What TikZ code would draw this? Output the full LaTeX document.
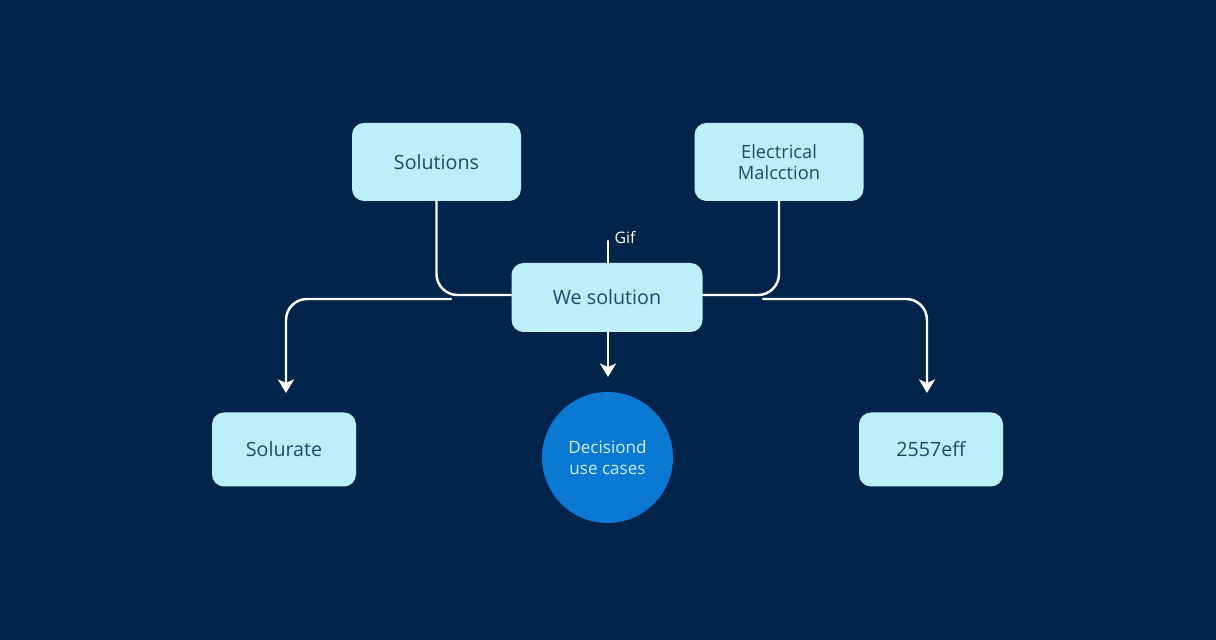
\documentclass[tikz,border=0pt]{standalone}
\usepackage{fontspec}
\setmainfont{Open Sans}
\usetikzlibrary{arrows.meta}
\usetikzlibrary{positioning}
\definecolor{bgblue}{HTML}{02244A}
\definecolor{boxblue}{HTML}{BBF0FA}
\definecolor{boxtext}{HTML}{1D4A6B}
\definecolor{discblue}{HTML}{0B78D4}
\definecolor{disctext}{HTML}{CDF3FB}
\tikzstyle{every node}=[font=\fontsize{11.2}{11.9}\selectfont,inner sep=0pt,outer sep=0pt]
\tikzstyle{every path}=[line cap=round,line join=round]
\tikzstyle{bigbox}=[fill=boxblue,text=boxtext,rounded corners=0.24cm,align=center,minimum width=3.38cm,minimum height=1.56cm]
\tikzstyle{midbox}=[bigbox,minimum width=3.82cm,minimum height=1.38cm]
\tikzstyle{lowbox}=[bigbox,minimum width=2.88cm,minimum height=1.48cm]
\tikzstyle{disc}=[circle,fill=discblue,text=disctext,align=center,minimum size=2.62cm,font=\fontsize{9.7}{11.9}\selectfont]
\tikzstyle{wire}=[draw=white,line width=1.4pt,rounded corners=0.42cm]
\tikzstyle{flow}=[wire,-{Stealth[length=0.27cm,width=0.32cm,inset=0.07cm]}]
\begin{document}
\begin{tikzpicture}

\fill [bgblue] (0,0) rectangle (24.32,12.8);
\useasboundingbox (0,0) rectangle (24.32,12.8);

\node [bigbox] (solutions) at (8.73,9.56) {Solutions};
\node [bigbox,font=\fontsize{10.4}{11.9}\selectfont] (electrical) at (15.58,9.56) {Electrical\\Malcction};
\node [midbox] (wesol) at (12.14,6.85) {We solution};
\node [lowbox] (solurate) at (5.68,3.81) {Solurate};
\node [lowbox] (eff) at (18.62,3.81) {2557eff};
\node [disc] (decision) at (12.15,3.65) {Decisiond\\use cases};
\node [text=white,font=\fontsize{9}{10}\selectfont] (gif) at (12.5,8.04) {Gif};

\coordinate (wesolleft) at (10.22,6.9);
\coordinate (wesolright) at (14.06,6.9);
\coordinate (gifend) at (12.16,7.98);
\coordinate (wesoltop) at (12.16,7.54);
\coordinate (wesolbot) at (12.16,6.16);
\coordinate (midtip) at (12.16,5.26);
\coordinate (leftstart) at (9.02,6.82);
\coordinate (leftbend) at (5.72,6.82);
\coordinate (lefttip) at (5.72,4.94);
\coordinate (rightstart) at (15.26,6.82);
\coordinate (rightbend) at (18.54,6.82);
\coordinate (righttip) at (18.54,4.94);

\draw [wire] (solutions.south) |- (wesolleft);
\draw [wire] (electrical.south) |- (wesolright);
\draw [wire] (gifend) -- (wesoltop);
\draw [flow] (wesolbot) -- (midtip);
\draw [flow] (leftstart) -- (leftbend) -- (lefttip);
\draw [flow] (rightstart) -- (rightbend) -- (righttip);

\end{tikzpicture}
\end{document}
